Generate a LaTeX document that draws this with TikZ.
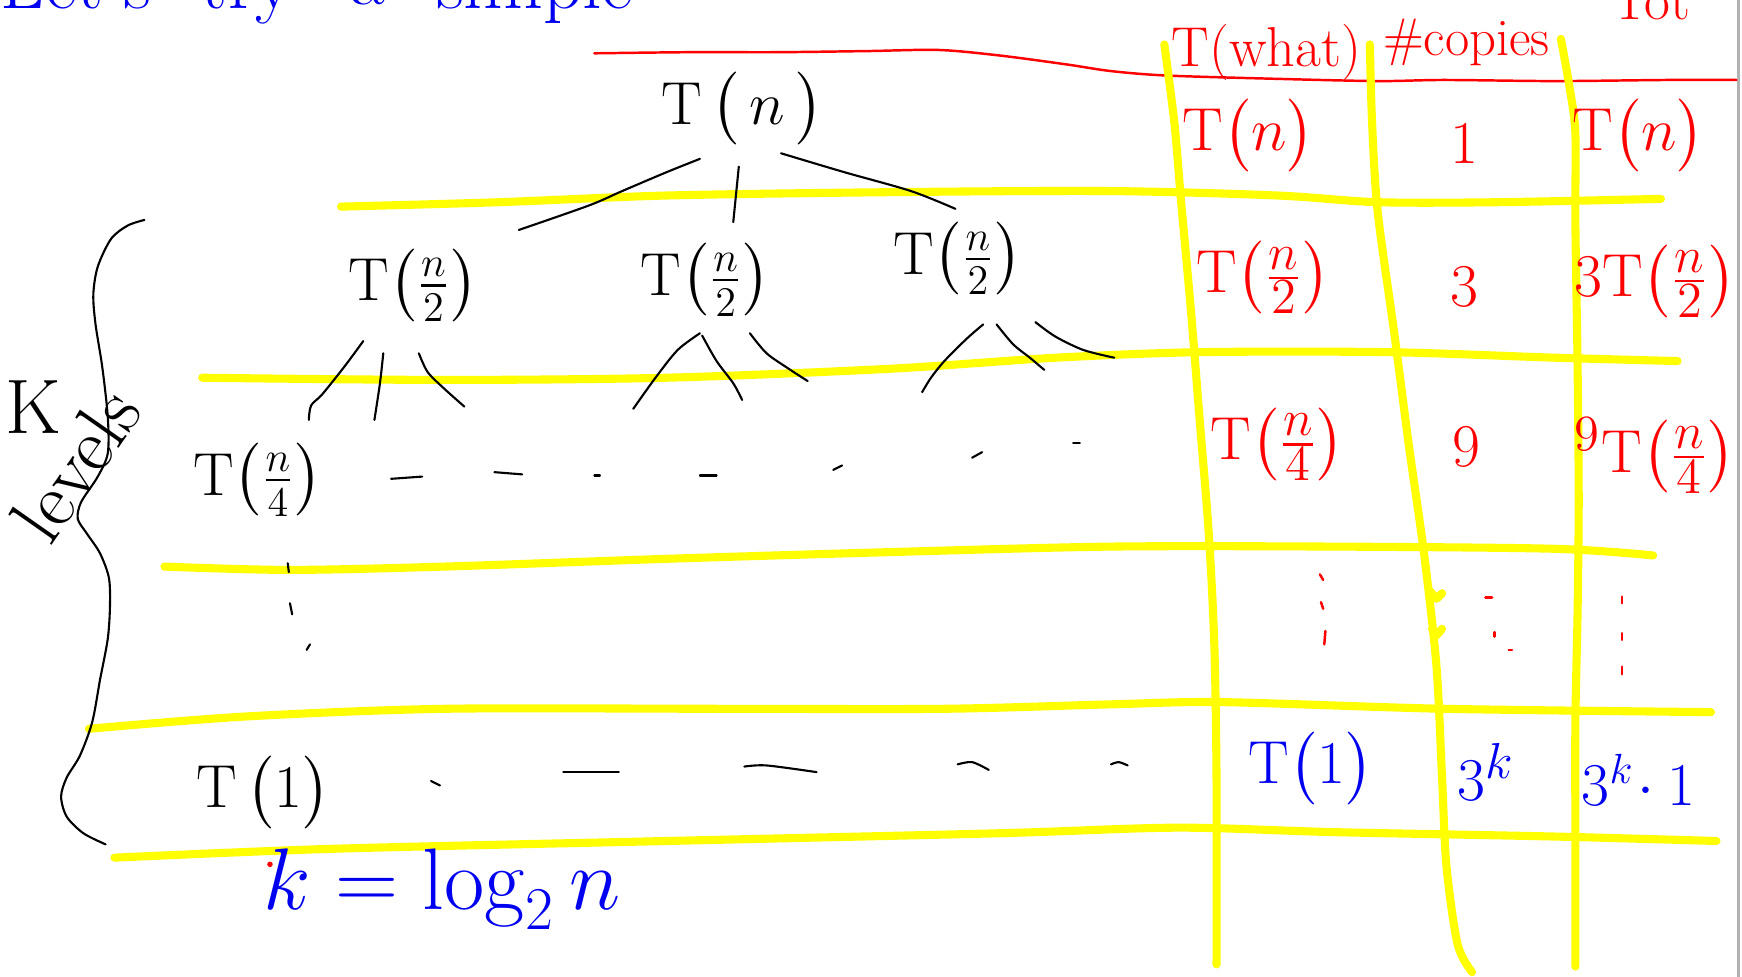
\documentclass[tikz,border=0pt]{standalone}
\usepackage{amsmath}
\definecolor{hlyellow}{RGB}{255,255,0}
\definecolor{penred}{RGB}{255,0,0}
\definecolor{penblue}{RGB}{0,0,240}
\tikzset{
  hl/.style={hlyellow, line width=2.3pt, line cap=round, line join=round},
  ink/.style={black, line width=0.6pt, line cap=round},
  redink/.style={penred, line width=0.7pt, line cap=round},
  blueink/.style={penblue, line width=0.7pt, line cap=round},
  blk/.style={black, font=\fontsize{18}{22}\selectfont, inner sep=0pt},
  rtxt/.style={penred, font=\fontsize{19}{23}\selectfont, inner sep=0pt},
  btxt/.style={penblue, font=\fontsize{19}{23}\selectfont, inner sep=0pt},
  toptxt/.style={penblue, font=\fontsize{22}{26}\selectfont, inner sep=0pt, anchor=base west},
}
\newcommand{\Tt}{\mathrm{T}}
\begin{document}
\begin{tikzpicture}[x=0.01111cm, y=-0.01111cm]
\useasboundingbox (0,0) rectangle (1568,879);
\clip (0,0) rectangle (1568,879);
\fill[white] (0,0) rectangle (1568,879);

% right edge grey line
\draw[black!30, line width=0.8pt] (1565,0) -- (1565,879);

% top blue text (clipped by the page edge)
\node[toptxt] (w1) at (0,8) {Let's};
\node[toptxt] (w2) at (180,8) {try};
\node[toptxt] (w3) at (315,4) {a};
\node[toptxt] (w4) at (392,8) {simple};
\node[toptxt] (w5) at (585,0) {one};

% red header line
\draw[redink] plot[smooth] coordinates {(535,48) (620,47) (700,47) (780,46) (845,45) (900,50) (960,58) (1000,64) (1050,68) (1150,71) (1240,73) (1300,72) (1400,73) (1500,72) (1563,72)};

% yellow grid: horizontal
\draw[hl] plot[smooth] coordinates {(307,186) (450,182) (600,176) (800,173) (1000,172) (1150,176) (1240,182) (1350,182) (1495,179)};
\draw[hl] plot[smooth] coordinates {(182,340) (400,342) (600,340) (800,332) (950,322) (1080,317) (1250,317) (1400,322) (1510,325)};
\draw[hl] plot[smooth] coordinates {(148,510) (260,513) (400,510) (600,503) (800,497) (1000,492) (1200,492) (1400,494) (1488,500)};
\draw[hl] plot[smooth] coordinates {(80,656) (220,645) (400,638) (650,638) (850,638) (1000,634) (1100,632) (1300,638) (1540,641)};
\draw[hl] plot[smooth] coordinates {(103,772) (300,764) (600,757) (900,750) (1060,745) (1200,749) (1400,753) (1545,757)};
% yellow grid: vertical
\draw[hl] plot[smooth] coordinates {(1048,40) (1057,110) (1063,180) (1072,280) (1080,380) (1088,480) (1093,580) (1095,700) (1095,868)};
\draw[hl] plot[smooth] coordinates {(1233,40) (1235,110) (1240,190) (1255,300) (1268,400) (1282,500) (1293,600) (1298,700) (1302,780) (1312,850) (1325,875)};
\draw[hl] plot[smooth] coordinates {(1405,35) (1413,80) (1418,120) (1418,200) (1420,330) (1421,450) (1420,550) (1418,650) (1418,760) (1418,870)};
\draw[hl] (1287,532) -- (1293,539) -- (1298,534);
\draw[hl] (1289,566) -- (1293,572) -- (1298,566);

% table header (red)
\node[rtxt, anchor=base, font=\fontsize{16}{19}\selectfont] (hwhat) at (1140,60) {T(what)};
\node[rtxt, anchor=base, font=\fontsize{15}{18}\selectfont] (hcopies) at (1320,50) {\#copies};
\node[rtxt, anchor=base west, font=\fontsize{16}{19}\selectfont] (htot) at (1450,18) {Tot};

% table rows (red)
\node[rtxt] (r1a) at (1124,122) {$\Tt\bigl(n\bigr)$};
\node[rtxt] (r1b) at (1318,130) {$1$};
\node[rtxt] (r1c) at (1475,122) {$\Tt\bigl(n\bigr)$};
\node[rtxt] (r2a) at (1137,250) {$\Tt\bigl(\frac{n}{2}\bigr)$};
\node[rtxt] (r2b) at (1318,258) {$3$};
\node[rtxt] (r2c) at (1490,253) {$3\Tt\bigl(\frac{n}{2}\bigr)$};
\node[rtxt] (r3a) at (1150,400) {$\Tt\bigl(\frac{n}{4}\bigr)$};
\node[rtxt] (r3b) at (1320,402) {$9$};
\node[rtxt] (r3c) at (1490,410) {$^9\Tt\bigl(\frac{n}{4}\bigr)$};
% red ellipsis marks
\draw[redink] (1188,517) -- (1191,522);
\draw[redink] (1189,542) -- (1191,548);
\draw[redink] (1193,568) -- (1192,580);
\draw[redink] (1337,538) -- (1343,538);
\draw[redink] (1345,569) -- (1345,573);
\draw[redink] (1358,585) -- (1361,585);
\draw[redink] (1460,537) -- (1460,543);
\draw[redink] (1460,570) -- (1460,576);
\draw[redink] (1460,600) -- (1460,607);

% last row (blue)
\node[btxt] (r5a) at (1180,692) {$\Tt\bigl(1\bigr)$};
\node[btxt] (r5b) at (1338,695) {$3^{k}$};
\node[btxt, font=\fontsize{18}{22}\selectfont] (r5c) at (1475,702) {$3^{k}\!\cdot 1$};
\node[btxt, font=\fontsize{24}{28}\selectfont] (keq) at (398,800) {$k = \log_2 n$};
\fill[penred] (243,778) circle (2.5);

% tree (black)
\node[blk] (root) at (668,98) {$\Tt\,\bigl(\,n\,\bigr)$};
\node[blk] (c1) at (372,257) {$\Tt\bigl(\frac{n}{2}\bigr)$};
\node[blk] (c2) at (635,252) {$\Tt\bigl(\frac{n}{2}\bigr)$};
\node[blk] (c3) at (862,233) {$\Tt\bigl(\frac{n}{2}\bigr)$};
\node[blk] (g1) at (232,432) {$\Tt\bigl(\frac{n}{4}\bigr)$};
\node[blk] (leaf) at (237,713) {$\Tt\,\bigl(1\bigr)$};

\draw[ink] plot[smooth] coordinates {(630,143) (600,155) (560,172) (530,185) (467,207)};
\draw[ink] (665,150) -- (660,200);
\draw[ink] plot[smooth] coordinates {(703,138) (760,155) (820,172) (860,188)};

\draw[ink] plot[smooth] coordinates {(327,307) (310,330) (290,355) (280,365) (278,378)};
\draw[ink] plot[smooth] coordinates {(345,318) (342,345) (337,378)};
\draw[ink] plot[smooth] coordinates {(377,318) (385,335) (400,350) (418,366)};
\draw[ink] plot[smooth] coordinates {(630,300) (610,315) (590,340) (570,368)};
\draw[ink] plot[smooth] coordinates {(632,302) (645,325) (660,345) (668,360)};
\draw[ink] plot[smooth] coordinates {(675,300) (690,318) (710,332) (727,343)};
\draw[ink] plot[smooth] coordinates {(885,292) (870,305) (850,325) (838,340) (830,353)};
\draw[ink] plot[smooth] coordinates {(897,292) (912,310) (927,322) (940,333)};
\draw[ink] plot[smooth] coordinates {(932,290) (950,303) (975,315) (1003,322)};

% dashes after T(n/4)
\draw[ink] (352,431) -- (380,429);
\draw[ink] (445,425) -- (470,427);
\draw[ink] (535,428) -- (540,428);
\draw[ink] (630,428) -- (645,428);
\draw[ink] (750,423) -- (758,419);
\draw[ink] (875,412) -- (884,407);
\draw[ink] (966,399) -- (972,399);
% vertical dots
\draw[ink] (259,507) -- (260,515);
\draw[ink] (261,543) -- (263,553);
\draw[ink] (276,585) -- (279,580);
% dashes after T(1)
\draw[ink] (388,703) -- (396,707);
\draw[ink] (507,695) -- (557,695);
\draw[ink] plot[smooth] coordinates {(670,690) (690,689) (735,695)};
\draw[ink] plot[smooth] coordinates {(862,688) (875,686) (890,693)};
\draw[ink] plot[smooth] coordinates {(1000,688) (1007,686) (1015,689)};

% brace
\draw[ink] plot[smooth] coordinates {(130,198) (115,203) (100,215) (88,240) (84,265) (86,292) (92,330) (97,375) (97,408) (88,429) (73,452) (70,467) (78,480) (90,498) (98,520) (99,545) (97,575) (90,612) (83,650) (72,680) (60,700) (55,717) (60,735) (75,750) (95,760)};
\node[blk, font=\fontsize{22}{26}\selectfont] (klab) at (30,366) {K};
\node[blk, font=\fontsize{22}{26}\selectfont, rotate=55] (lev) at (68,418) {levels};
\end{tikzpicture}
\end{document}
